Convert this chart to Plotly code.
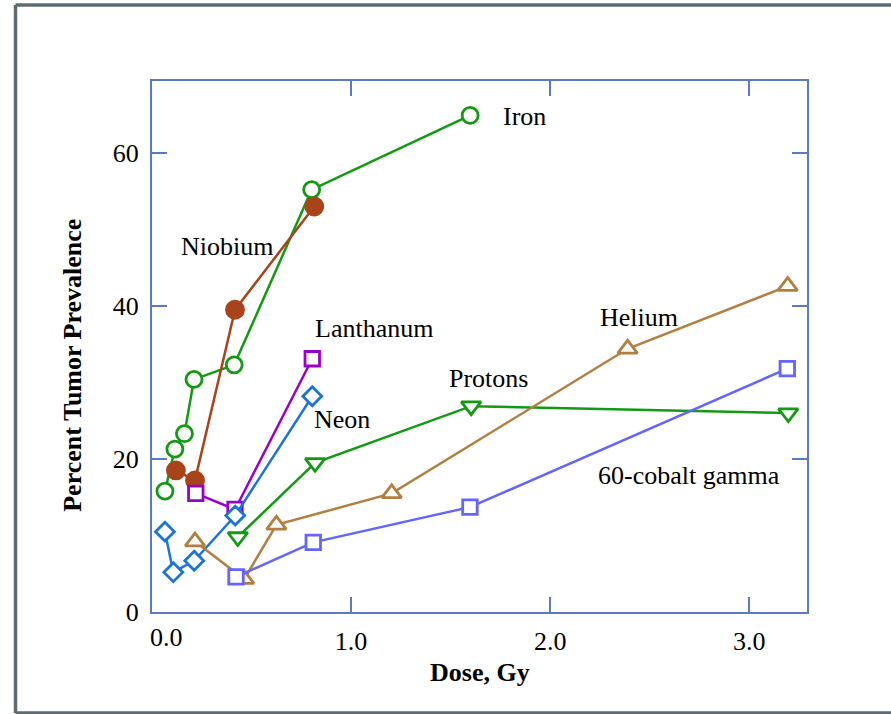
import plotly.graph_objects as go

# ---------------- data ----------------
iron_dose = [0.065, 0.115, 0.163, 0.211, 0.413, 0.802, 1.598]
iron_val = [15.8, 21.3, 23.3, 30.4, 32.3, 55.2, 64.9]

niobium_dose = [0.120, 0.216, 0.417, 0.815]
niobium_val = [18.5, 17.2, 39.5, 53.0]

lanthanum_dose = [0.220, 0.417, 0.805]
lanthanum_val = [15.5, 13.4, 33.1]

neon_dose = [0.065, 0.107, 0.212, 0.418, 0.805]
neon_val = [10.5, 5.2, 6.7, 12.6, 28.2]

protons_dose = [0.431, 0.819, 1.603, 3.196]
protons_val = [9.8, 19.5, 26.9, 26.0]

helium_dose = [0.216, 0.463, 0.625, 1.204, 2.389, 3.193]
helium_val = [9.2, 4.3, 11.4, 15.5, 34.4, 42.6]

cobalt_dose = [0.422, 0.810, 1.597, 3.191]
cobalt_val = [4.6, 9.1, 13.7, 31.8]

series_names = ["Iron", "Niobium", "Lanthanum", "Neon", "Protons", "Helium", "60-cobalt gamma"]

label_text = ["Iron", "Niobium", "Lanthanum", "Neon", "Protons", "Helium", "60-cobalt gamma"]
label_x = [1.755, 0.136, 0.810, 0.805, 1.482, 2.242, 2.228]
label_y = [64.7, 47.8, 37.1, 25.1, 30.5, 38.5, 17.8]

x_tick_vals = [0, 1, 2, 3]
x_tick_text = ["0.0", "1.0", "2.0", "3.0"]
y_tick_vals = [0, 20, 40, 60]
y_tick_text = ["0", "20", "40", "60"]

x_title = "Dose, Gy"
y_title = "Percent Tumor Prevalence"

# ---------------- styling ----------------
FONT = "Liberation Serif, Times New Roman, serif"
FS = 26
AXIS = "#5b7bbf"
FRAME = "#5f6b73"
GREEN = "#139a13"

styles = [
    # symbol, color, fill, size
    ("circle", GREEN, "white", 16),
    ("circle", "#a8431a", "#a8431a", 17),
    ("square", "#9a00cc", "white", 14.5),
    ("diamond", "#1a74d9", "white", 14.5),
    ("triangle-down", GREEN, "white", 17),
    ("triangle-up", "#b27f40", "white", 17),
    ("square", "#6464ff", "white", 14.5),
]
data = [
    (iron_dose, iron_val), (niobium_dose, niobium_val), (lanthanum_dose, lanthanum_val),
    (neon_dose, neon_val), (protons_dose, protons_val), (helium_dose, helium_val),
    (cobalt_dose, cobalt_val),
]

fig = go.Figure()
for name, (xs, ys), (sym, col, fill, size) in zip(series_names, data, styles):
    fig.add_trace(go.Scatter(
        x=xs, y=ys, mode="lines+markers", name=name,
        line=dict(color=col, width=2.5),
        marker=dict(symbol=sym, size=size, color=fill, line=dict(color=col, width=2.8)),
        showlegend=False, cliponaxis=False,
    ))

# series labels
for t, x, y in zip(label_text, label_x, label_y):
    fig.add_annotation(x=x, y=y, xref="x", yref="y", text=t, showarrow=False,
                       xanchor="left", yanchor="middle",
                       font=dict(family=FONT, size=FS, color="black"))

# first x tick label sits slightly to the right of the axis in the reference
fig.add_annotation(x=0.075, y=0, xref="x", yref="paper", text=x_tick_text[0],
                   showarrow=False, xanchor="center", yanchor="top", yshift=-9,
                   font=dict(family=FONT, size=FS, color="black"))

# axis titles
fig.add_annotation(x=0.5, y=-0.083, xref="paper", yref="paper", text="<b>%s</b>" % x_title,
                   showarrow=False, xanchor="center", yanchor="top",
                   font=dict(family=FONT, size=FS, color="black"))
fig.add_annotation(x=-0.1226, y=0.465, xref="paper", yref="paper", text="<b>%s</b>" % y_title,
                   showarrow=False, textangle=-90, xanchor="center", yanchor="middle",
                   font=dict(family=FONT, size=FS, color="black"))

# outer frame (grey lines top/left/bottom)
W, H = 891, 714
L, R, T, B = 152, 84, 81, 102
pw, ph = W - L - R, H - T - B
def px(xp):
    return (xp - L) / pw
def py(yp):
    return (H - B - yp) / ph

for x0, y0, x1, y1 in [(15.5, 5, 891, 5), (15.5, 5, 15.5, 713), (15.5, 713, 891, 713)]:
    fig.add_shape(type="line", xref="paper", yref="paper",
                  x0=px(x0), y0=py(y0), x1=px(x1), y1=py(y1),
                  line=dict(color=FRAME, width=3.5), layer="above")

fig.update_layout(
    width=W, height=H,
    margin=dict(l=L, r=R, t=T, b=B),
    paper_bgcolor="white", plot_bgcolor="white",
    font=dict(family=FONT, size=FS, color="black"),
    xaxis=dict(range=[0, 3.29], tickvals=x_tick_vals[1:], ticktext=x_tick_text[1:],
               ticks="inside", ticklen=15, tickwidth=2, tickcolor=AXIS,
               showline=True, linecolor=AXIS, linewidth=2, mirror="ticks",
               showgrid=False, zeroline=False, ticklabelstandoff=5,
               tickfont=dict(family=FONT, size=FS, color="black")),
    yaxis=dict(range=[0, 69.4], tickvals=y_tick_vals, ticktext=y_tick_text,
               ticks="inside", ticklen=15, tickwidth=2, tickcolor=AXIS,
               showline=True, linecolor=AXIS, linewidth=2, mirror="ticks",
               showgrid=False, zeroline=False, ticklabelstandoff=6,
               tickfont=dict(family=FONT, size=FS, color="black")),
)

fig.write_html("out.html")
